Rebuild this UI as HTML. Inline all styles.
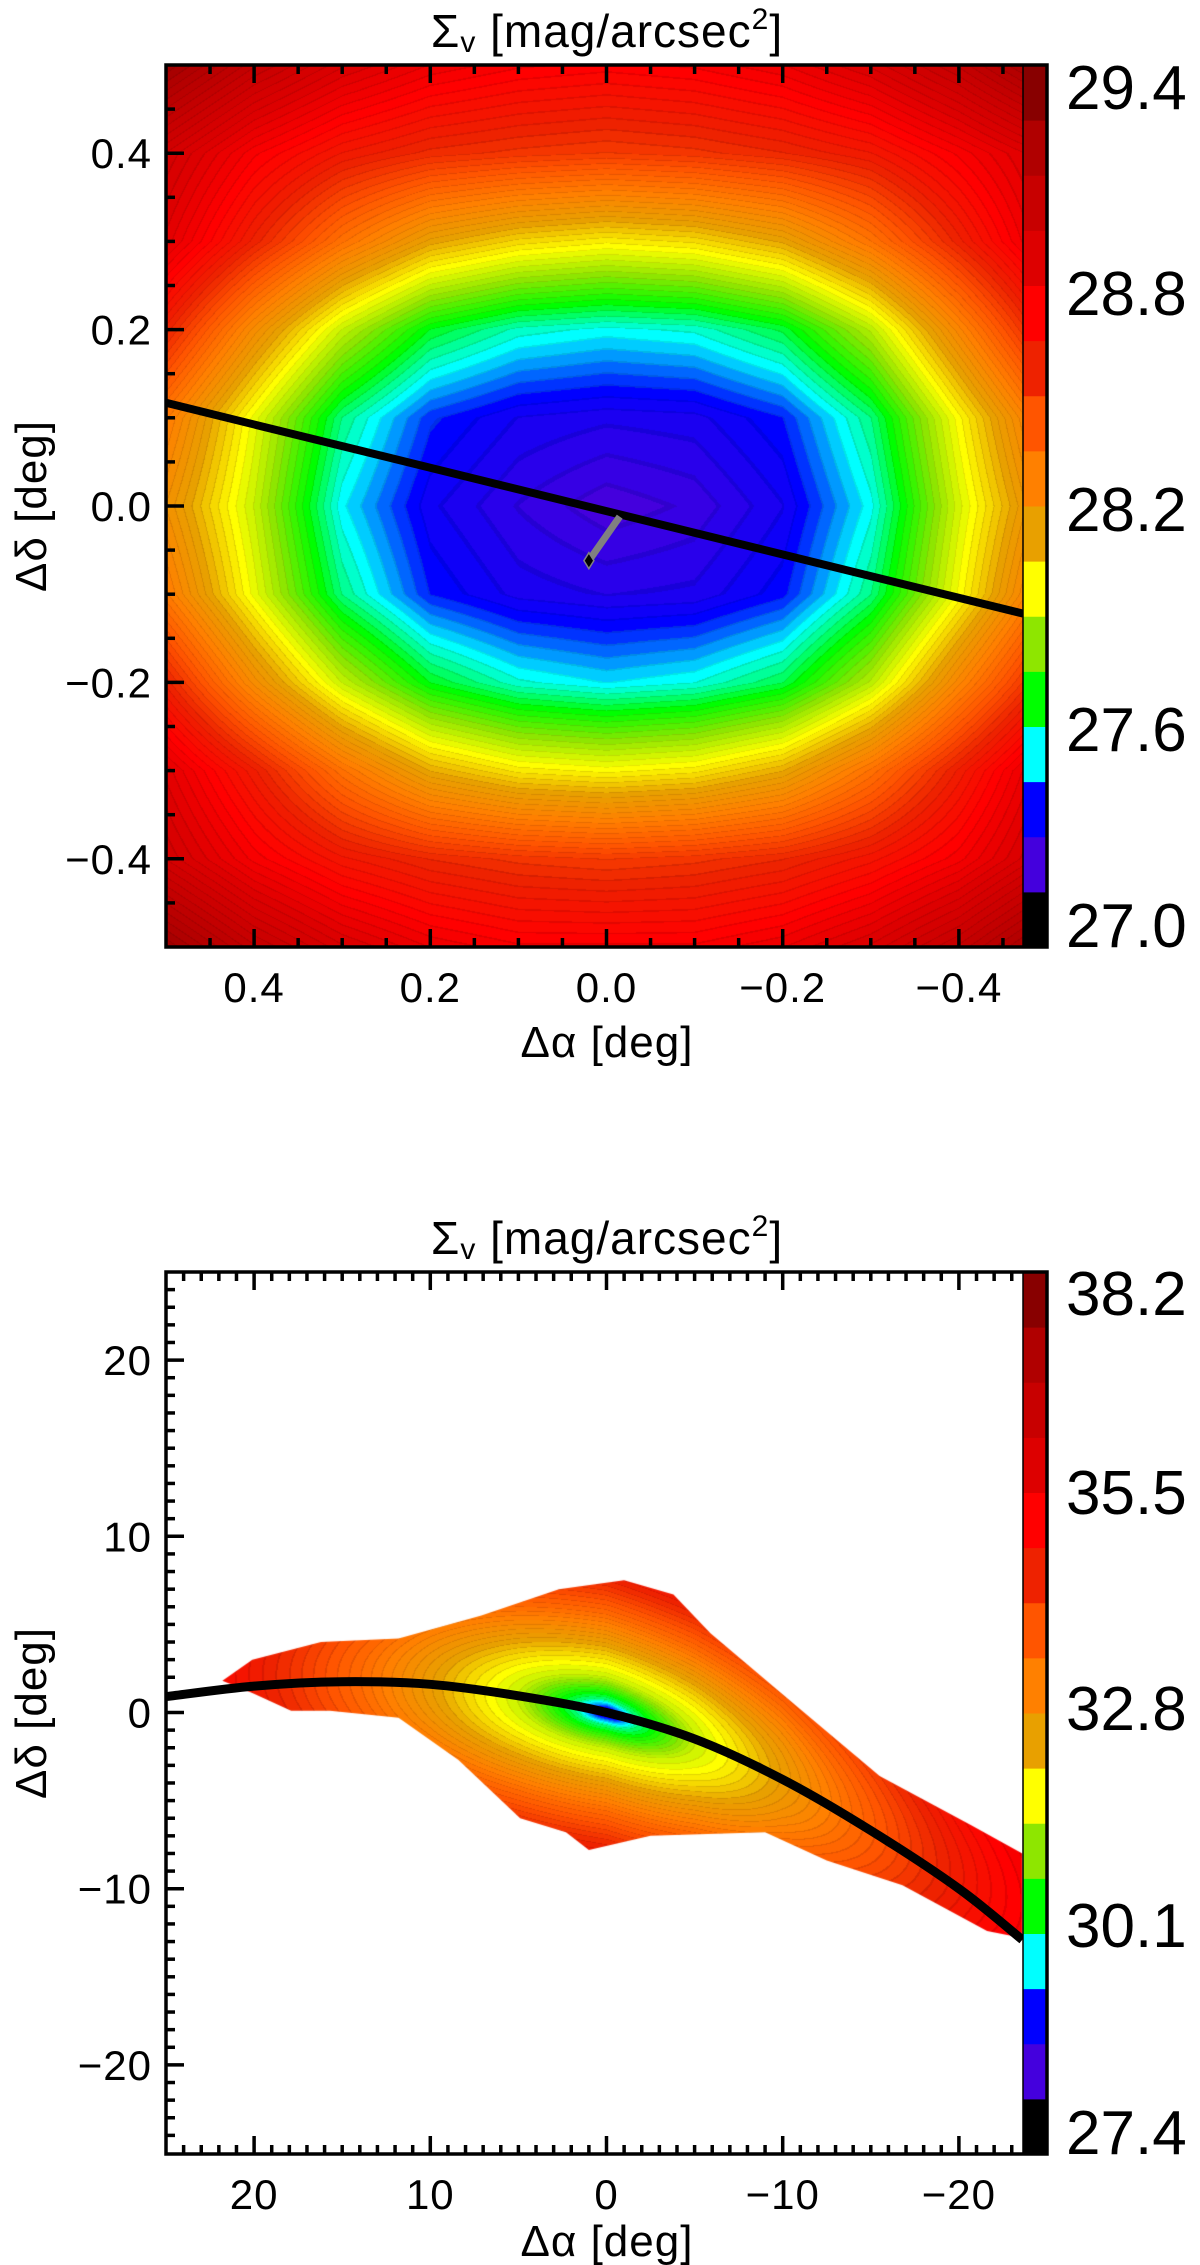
<!DOCTYPE html>
<html><head><meta charset="utf-8">
<style>
html,body{margin:0;padding:0;background:#fff;}
#wrap{position:relative;width:1200px;height:2265px;overflow:hidden;background:#fff;}
canvas{position:absolute;}
svg{position:absolute;left:0;top:0;}
text{font-family:"Liberation Sans",sans-serif;fill:#000;}
</style></head>
<body>
<div id="wrap">
<canvas id="c1" width="857" height="882" style="left:166px;top:65px"></canvas>
<canvas id="c2" width="857" height="882" style="left:166px;top:1272px"></canvas>
<svg id="svg" width="1200" height="2265" xmlns="http://www.w3.org/2000/svg"></svg>
</div>
<script>
// ---------- shared palette (colorbar segments, bottom -> top) ----------
const palette = ['#000000','#4400dd','#0000ff','#00ffff','#00ff00','#8ee600','#ffff00','#e8a000','#ff8000','#ff5500','#ee2200','#ff0000','#dd0000','#c80000','#b00000','#880000'];

// ---------- top panel data ----------
const topGridX = [0.5,0.4,0.3,0.2,0.1,0.0,-0.1,-0.2,-0.3,-0.4,-0.5];
const topGridY = [0.5,0.4,0.3,0.2,0.1,0.0,-0.1,-0.2,-0.3,-0.4,-0.5];
const topGrid = [
 [29.25,29.05,28.9,28.8,28.75,28.73,28.75,28.8,28.9,29.05,29.25],
 [28.95,28.75,28.62,28.55,28.52,28.5,28.52,28.56,28.62,28.75,28.9],
 [28.85,28.58,28.33,28.13,28.04,28.0,28.03,28.12,28.32,28.58,28.85],
 [28.58,28.22,27.9,27.66,27.56,27.53,27.55,27.64,27.88,28.25,28.62],
 [28.3,27.95,27.6,27.40,27.33,27.31,27.32,27.39,27.6,27.98,28.35],
 [28.2,27.9,27.52,27.34,27.27,27.22,27.25,27.33,27.53,27.92,28.25],
 [28.3,27.95,27.6,27.39,27.32,27.3,27.31,27.38,27.6,27.97,28.35],
 [28.58,28.22,27.9,27.66,27.55,27.51,27.54,27.63,27.88,28.25,28.6],
 [28.85,28.6,28.33,28.11,28.01,27.98,28.01,28.11,28.33,28.6,28.88],
 [28.95,28.76,28.63,28.56,28.52,28.5,28.52,28.56,28.64,28.76,28.95],
 [29.25,29.05,28.9,28.8,28.75,28.75,28.75,28.8,28.9,29.05,29.25]
];
const topLevelMin = 27.0, topLevelStep = 0.15;
const topCbLabels = ['27.0','27.6','28.2','28.8','29.4'];
const topCbLabelBase = [947,751,531,315,109];
const topAxisLineX = [0.5,-0.473];
const topAxisLineY = [0.117,-0.122];
const topMarkerX = [0.02,-0.015];
const topMarkerY = [-0.062,-0.012];
const topXTicks = [0.4,0.2,0.0,-0.2,-0.4];
const topYTicks = [0.4,0.2,0.0,-0.2,-0.4];

// ---------- bottom panel data ----------
const botRidgeX = [25,20,15,10,5,0,-5,-10,-15,-20,-25];
const botRidgeY = [2.3,2.2,2.0,1.5,0.8,0,-1.6,-3.6,-6.4,-9.2,-11.5];
const botProfileS = [0,0.5,1.0,1.8,5,8,11,14,18,22,26,32];
const botProfileMag = [28.2,28.8,29.4,30.1,31.45,32.1,32.8,33.5,34.3,35.0,35.6,36.2];
const botMaskX = [21.8,20.1,16.2,11.8,7.1,2.7,-1.0,-3.8,-5.9,-11.1,-15.5,-20.7,-23.6,-23.6,-21.6,-16.8,-12.5,-9.0,-2.5,1.0,2.3,4.9,8.4,11.8,15.7,17.9,20.1];
const botMaskY = [1.8,3.0,4.0,4.2,5.5,7.0,7.5,6.7,4.5,0.1,-3.6,-6.4,-8.0,-12.8,-12.4,-9.8,-8.4,-6.8,-7.0,-7.8,-6.8,-6.0,-2.7,-0.3,0.1,0.1,1.1];
const botCurveX = [25,20,15,10,5,0,-5,-10,-15,-20,-23.6];
const botCurveY = [0.9,1.5,1.75,1.6,0.95,0.0,-1.5,-3.8,-6.7,-10.0,-12.9];
const botLevelMin = 27.4, botLevelStep = 0.675;
const botCbLabels = ['27.4','30.1','32.8','35.5','38.2'];
const botCbLabelBase = [2154,1947,1730,1514,1315];
const botXTicks = [20,10,0,-10,-20];
const botYTicks = [20,10,0,-10,-20];

// ---------- scales ----------
const PL=166, PW=857, PH=882, CBX=1023, CBW=24;
const T = {x0:0.5, xu:881, y0:0.5, top:65};
const tsx = x => PL + (T.x0 - x)*T.xu;
const tsy = y => T.top + (T.y0 - y)*882;
const B = {top:1272, s:17.62};
const bsx = x => PL + (25 - x)*B.s;
const bsy = y => B.top + (25 - y)*B.s;

function hex2rgb(h){return [parseInt(h.substr(1,2),16),parseInt(h.substr(3,2),16),parseInt(h.substr(5,2),16)];}
const palRGB = palette.map(hex2rgb);
const SUB = 5;
function colorFor(v, vmin, step){
  let f=(v-vmin)/step; if(f<0)f=0; if(f>15.999)f=15.999;
  const fs=f*SUB, band=Math.floor(fs), fr=fs-band;
  const fq=(band+0.5)/SUB;
  let p=fq-0.5; if(p<0)p=0; if(p>15)p=15;
  const i=Math.floor(p), t=p-i, j=Math.min(15,i+1);
  const a=palRGB[i], b=palRGB[j];
  let k = (fr<0.14) ? 0.9 : 1.0;
  return [(a[0]+(b[0]-a[0])*t)*k,(a[1]+(b[1]-a[1])*t)*k,(a[2]+(b[2]-a[2])*t)*k];
}
function interp1(xs, ys, x){
  const n=xs.length;
  const dec = xs[0]>xs[n-1];
  for(let i=0;i<n-1;i++){
    const a=xs[i], b=xs[i+1];
    if((dec && x<=a && x>=b) || (!dec && x>=a && x<=b)){
      const t=(x-a)/(b-a); return ys[i]+t*(ys[i+1]-ys[i]);
    }
  }
  if(dec) return x>xs[0]?ys[0]:ys[n-1];
  return x<xs[0]?ys[0]:ys[n-1];
}

// ---------- top field ----------
(function(){
  const ctx=document.getElementById('c1').getContext('2d');
  const img=ctx.createImageData(PW,PH);
  const nx=topGridX.length, ny=topGridY.length;
  for(let py=0;py<PH;py++){
    const yd = T.y0 - (py+0.5)/882;
    let fy=(topGridY[0]-yd)/(topGridY[0]-topGridY[ny-1])*(ny-1);
    fy=Math.max(0,Math.min(ny-1.0001,fy)); const j=Math.floor(fy), ty=fy-j;
    for(let px=0;px<PW;px++){
      const xd = T.x0 - (px+0.5)/T.xu;
      let fx=(topGridX[0]-xd)/(topGridX[0]-topGridX[nx-1])*(nx-1);
      fx=Math.max(0,Math.min(nx-1.0001,fx)); const i=Math.floor(fx), tx=fx-i;
      const v=(topGrid[j][i]*(1-tx)+topGrid[j][i+1]*tx)*(1-ty)+(topGrid[j+1][i]*(1-tx)+topGrid[j+1][i+1]*tx)*ty;
      const c=colorFor(v,topLevelMin,topLevelStep);
      const o=(py*PW+px)*4; img.data[o]=c[0];img.data[o+1]=c[1];img.data[o+2]=c[2];img.data[o+3]=255;
    }
  }
  ctx.putImageData(img,0,0);
})();

// ---------- bottom field ----------
(function(){
  const cv=document.getElementById('c2'); const ctx=cv.getContext('2d');
  const off=document.createElement('canvas'); off.width=PW; off.height=PH;
  const octx=off.getContext('2d');
  const img=octx.createImageData(PW,PH);
  for(let py=0;py<PH;py++){
    const yd = 25 - (py+0.5)/B.s;
    for(let px=0;px<PW;px++){
      const xd = 25 - (px+0.5)/B.s;
      const ry = interp1(botRidgeX, botRidgeY, xd);
      const dy = yd - ry;
      const s = Math.sqrt(xd*xd + (2.5*dy)*(2.5*dy));
      const v = interp1(botProfileS, botProfileMag, s);
      const c=colorFor(v,botLevelMin,botLevelStep);
      const o=(py*PW+px)*4; img.data[o]=c[0];img.data[o+1]=c[1];img.data[o+2]=c[2];img.data[o+3]=255;
    }
  }
  octx.putImageData(img,0,0);
  ctx.beginPath();
  for(let k=0;k<botMaskX.length;k++){
    const X=bsx(botMaskX[k])-PL, Y=bsy(botMaskY[k])-B.top;
    if(k===0) ctx.moveTo(X,Y); else ctx.lineTo(X,Y);
  }
  ctx.closePath(); ctx.clip(); ctx.drawImage(off,0,0);
})();

// ---------- SVG overlay ----------
const NS='http://www.w3.org/2000/svg';
const svg=document.getElementById('svg');
function el(tag, attrs, parent){
  const e=document.createElementNS(NS,tag);
  for(const k in attrs) e.setAttribute(k,attrs[k]);
  (parent||svg).appendChild(e); return e;
}
function fmt(v,dec){ const s=Math.abs(v).toFixed(dec); return (v<0?'\u2212':'')+s; }

function buildPanel(p){
  const g=el('g',{});
  
  
  const segH=PH/16;
  for(let i=0;i<16;i++){
    const r=el('rect',{x:CBX,y:p.top+PH-(i+1)*segH,width:CBW,height:segH+0.5,fill:palette[i]},g);
    
    
  }
  for(let i=0;i<p.cbLabels.length;i++){
    const t=el('text',{x:1066,y:p.cbBase[i],'font-size':62},g);
    t.textContent=p.cbLabels[i];
    
    
  }
  const fr=el('rect',{x:PL,y:p.top,width:1047-PL,height:PH,fill:'none',stroke:'#000','stroke-width':3.5},g);
  
  
  el('line',{x1:CBX,y1:p.top,x2:CBX,y2:p.top+PH,stroke:'#000','stroke-width':1.5},g);
  const tg=el('g',{stroke:'#000','stroke-width':3.5},g);
  
  
  for(let v=p.xmin; v<=p.xmax+1e-9; v+=p.minor){
    const X=p.sx(v); if(X<PL+2||X>CBX-2) continue;
    const isMaj=Math.abs(Math.round(v/p.major)*p.major-v)<1e-6;
    const L=isMaj?18:9;
    el('line',{x1:X,y1:p.top+PH,x2:X,y2:p.top+PH-L},tg);
    el('line',{x1:X,y1:p.top,x2:X,y2:p.top+L},tg);
  }
  for(let v=p.ymin; v<=p.ymax+1e-9; v+=p.minor){
    const Y=p.sy(v); if(Y<p.top+2||Y>p.top+PH-2) continue;
    const isMaj=Math.abs(Math.round(v/p.major)*p.major-v)<1e-6;
    const L=isMaj?18:9;
    el('line',{x1:PL,y1:Y,x2:PL+L,y2:Y},tg);
  }
  p.xticks.forEach(v=>{
    const t=el('text',{x:p.sx(v),y:p.top+PH+55,'font-size':42,'text-anchor':'middle','letter-spacing':1},g);
    t.textContent=fmt(v,p.dec);
    
    
  });
  p.yticks.forEach(v=>{
    const t=el('text',{x:152,y:p.sy(v)+15,'font-size':42,'text-anchor':'end','letter-spacing':1},g);
    t.textContent=fmt(v,p.dec);
    
    
  });
  const tt=el('text',{x:607,y:p.top-18,'font-size':46,'text-anchor':'middle','letter-spacing':1},g);
  
  
  tt.innerHTML='\u03A3<tspan font-size="30" dy="5">v</tspan><tspan dy="-5"> [mag/arcsec</tspan><tspan font-size="30" dy="-18">2</tspan><tspan dy="18">]</tspan>';
  const xt=el('text',{x:607,y:p.top+PH+p.xtOff,'font-size':44,'text-anchor':'middle','letter-spacing':1},g);
  xt.textContent='\u0394\u03B1 [deg]';
  
  
  const cy=p.top+PH/2;
  const yt=el('text',{x:46,y:cy,'font-size':44,'text-anchor':'middle','letter-spacing':1,transform:'rotate(-90 46 '+cy+')'},g);
  yt.textContent='\u0394\u03B4 [deg]';
  
  
  return g;
}

const defs=el('defs',{});
const cp1=el('clipPath',{id:'clipTop'},defs); el('rect',{x:PL,y:65,width:CBX-PL+6,height:PH},cp1);
const cp2=el('clipPath',{id:'clipBot'},defs); el('rect',{x:PL,y:B.top,width:CBX-PL+6,height:PH},cp2);

const tl=el('line',{x1:tsx(topAxisLineX[0]),y1:tsy(topAxisLineY[0]),x2:tsx(topAxisLineX[1]),y2:tsy(topAxisLineY[1]),stroke:'#000','stroke-width':8,'clip-path':'url(#clipTop)'});


const mk=el('line',{x1:tsx(topMarkerX[0]),y1:tsy(topMarkerY[0]),x2:tsx(topMarkerX[1]),y2:tsy(topMarkerY[1]),stroke:'#808080','stroke-width':7});


const dX=tsx(topMarkerX[0]), dY=tsy(topMarkerY[0]);
const dm=el('polygon',{points:`${dX},${dY-8} ${dX+5},${dY} ${dX},${dY+8} ${dX-5},${dY}`,fill:'#000',stroke:'#808080','stroke-width':1.5});



const P=botCurveX.map((x,k)=>[bsx(x),bsy(botCurveY[k])]);
let dpath='M'+P[0][0].toFixed(1)+','+P[0][1].toFixed(1);
for(let k=0;k<P.length-1;k++){
  const p0=P[Math.max(0,k-1)], p1=P[k], p2=P[k+1], p3=P[Math.min(P.length-1,k+2)];
  const c1=[p1[0]+(p2[0]-p0[0])/6, p1[1]+(p2[1]-p0[1])/6];
  const c2=[p2[0]-(p3[0]-p1[0])/6, p2[1]-(p3[1]-p1[1])/6];
  dpath+=`C${c1[0].toFixed(1)},${c1[1].toFixed(1)} ${c2[0].toFixed(1)},${c2[1].toFixed(1)} ${p2[0].toFixed(1)},${p2[1].toFixed(1)}`;
}
const bc=el('path',{d:dpath,fill:'none',stroke:'#000','stroke-width':9,'stroke-linejoin':'round','clip-path':'url(#clipBot)'});



buildPanel({name:'top-panel',top:65,sx:tsx,sy:tsy,xmin:-0.5,xmax:0.5,ymin:-0.5,ymax:0.5,minor:0.05,major:0.2,
  xticks:topXTicks,yticks:topYTicks,dec:1,cbLabels:topCbLabels,cbBase:topCbLabelBase,xtOff:110});
buildPanel({name:'bottom-panel',top:B.top,sx:bsx,sy:bsy,xmin:-25,xmax:25,ymin:-25,ymax:25,minor:1,major:10,
  xticks:botXTicks,yticks:botYTicks,dec:0,cbLabels:botCbLabels,cbBase:botCbLabelBase,xtOff:102});
</script>
</body></html>
